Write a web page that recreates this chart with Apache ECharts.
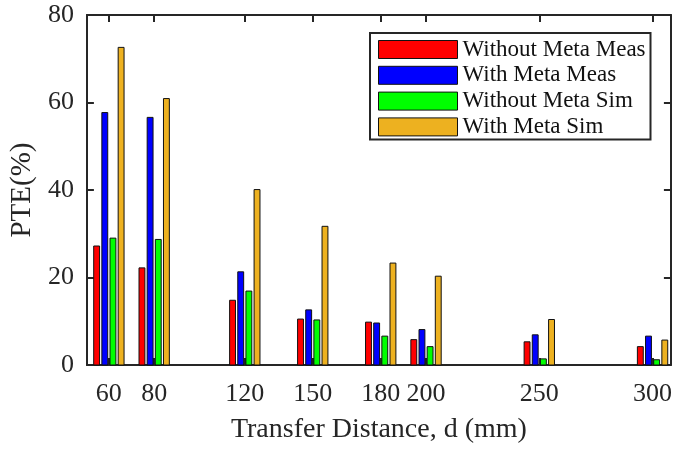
<!DOCTYPE html>
<html>
<head>
<meta charset="utf-8">
<script src="https://cdn.jsdelivr.net/npm/echarts@6/dist/echarts.min.js"></script>
<style>
  html, body { margin: 0; padding: 0; background: #fff; }
  #chart { width: 675px; height: 449px; }
</style>
</head>
<body>
<div id="chart"></div>
<script>
// ---- data ----
const distances = [60, 80, 120, 150, 180, 200, 250, 300];
const withoutMetaMeas = [27.2, 22.2, 14.8, 10.5, 9.8, 5.8, 5.3, 4.2];
const withMetaMeas    = [57.7, 56.6, 21.3, 12.6, 9.6, 8.1, 6.9, 6.6];
const withoutMetaSim  = [29.0, 28.7, 16.9, 10.3, 6.6, 4.2, 1.4, 1.2];
const withMetaSim     = [72.6, 60.9, 40.1, 31.7, 23.3, 20.3, 10.4, 5.7];
const seriesNames = ['Without Meta Meas', 'With Meta Meas', 'Without Meta Sim', 'With Meta Sim'];
const yTicks = [0, 20, 40, 60, 80];

const seriesValues = [withoutMetaMeas, withMetaMeas, withoutMetaSim, withMetaSim];
const colors = ['#ff0000', '#0000ff', '#00ff00', '#edb120'];
const FONT = '"Liberation Serif", "Times New Roman", serif';
const AX = '#262626';
const SLOT = 3.6;   // x-units between bar centres within a group
const BARW = 2.6;   // bar width in x-units

function makeRender(idx) {
  return function (params, api) {
    const x = api.value(0), v = api.value(1);
    const off = (idx - 1.5) * SLOT;
    const p0 = api.coord([x + off - BARW / 2, v]);
    const p1 = api.coord([x + off + BARW / 2, 0]);
    return {
      type: 'rect',
      shape: { x: p0[0], y: p0[1], width: p1[0] - p0[0], height: p1[1] - p0[1] },
      style: { fill: colors[idx], stroke: '#111', lineWidth: 1 }
    };
  };
}

const chart = echarts.init(document.getElementById('chart'), null, { renderer: 'canvas' });

const xCommon = {
  type: 'value', min: 50.3, max: 308.1,
  splitLine: { show: false },
  axisLine: { show: true, onZero: false, lineStyle: { color: AX, width: 2 } },
  axisTick: { show: true, inside: true, length: 7, customValues: distances, lineStyle: { color: AX, width: 2 } }
};
const yCommon = {
  type: 'value', min: yTicks[0], max: yTicks[yTicks.length - 1], interval: 20,
  splitLine: { show: false },
  axisLine: { show: true, onZero: false, lineStyle: { color: AX, width: 2 } },
  axisTick: { show: true, inside: true, length: 7, lineStyle: { color: AX, width: 2 } }
};

chart.setOption({
  animation: false,
  backgroundColor: '#fff',
  grid: { left: 85, right: 4, top: 15, bottom: 81, containLabel: false },
  xAxis: [
    Object.assign({}, xCommon, {
      position: 'bottom',
      name: 'Transfer Distance, d (mm)',
      nameLocation: 'middle', nameGap: 51,
      nameTextStyle: { fontFamily: FONT, fontSize: 28, color: AX },
      axisLabel: { show: true, customValues: distances, margin: 16, fontFamily: FONT, fontSize: 26, color: AX }
    }),
    Object.assign({}, xCommon, { position: 'top', axisLabel: { show: false } })
  ],
  yAxis: [
    Object.assign({}, yCommon, {
      position: 'left',
      name: 'PTE(%)',
      nameLocation: 'middle', nameGap: 46, nameRotate: 90,
      nameTextStyle: { fontFamily: FONT, fontSize: 29, color: AX },
      axisLabel: { show: true, margin: 13, fontFamily: FONT, fontSize: 26, color: AX }
    }),
    Object.assign({}, yCommon, { position: 'right', axisLabel: { show: false } })
  ],
  legend: {
    orient: 'vertical',
    left: 370, top: 33,
    backgroundColor: '#fff',
    borderColor: AX, borderWidth: 2, borderRadius: 0,
    padding: [5, 4, 1, 8],
    itemWidth: 79, itemHeight: 18, itemGap: 2.8,
    icon: 'rect',
    textStyle: { fontFamily: FONT, fontSize: 23, lineHeight: 22, color: '#111', width: 184 },
    data: seriesNames.map((n, i) => ({ name: n, itemStyle: { color: colors[i], borderColor: '#111', borderWidth: 1 } }))
  },
  series: seriesNames.map((n, i) => ({
    name: n,
    type: 'custom',
    xAxisIndex: 0, yAxisIndex: 0,
    itemStyle: { color: colors[i] },
    renderItem: makeRender(i),
    encode: { x: 0, y: 1 },
    data: distances.map((d, k) => [d, seriesValues[i][k]])
  }))
});
</script>
</body>
</html>
